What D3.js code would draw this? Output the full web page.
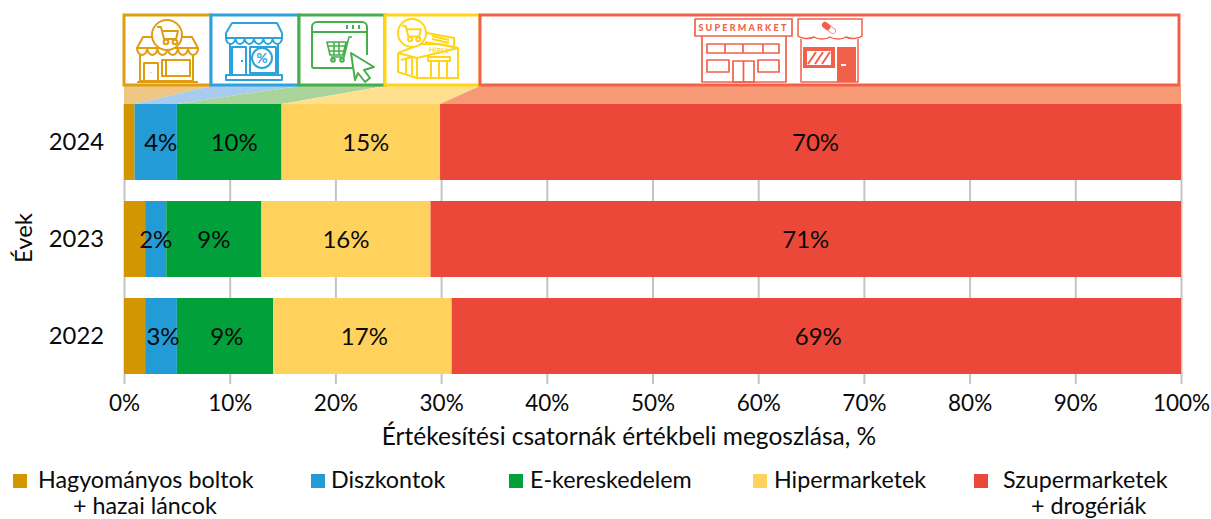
<!DOCTYPE html>
<html><head><meta charset="utf-8">
<script src="https://cdn.jsdelivr.net/npm/d3@7"></script>
<style>html,body{margin:0;padding:0;background:#fff}svg{display:block}text{font-family:"Lato","Noto Sans",sans-serif;fill:#0a0a0a}</style>
</head><body><svg id="c" width="1211" height="519"></svg>
<script>
const years=["2024","2023","2022"];
const channels=["Hagyományos boltok","Diszkontok","E-kereskedelem","Hipermarketek","Szupermarketek"];
const traditional=[1,2,2];
const discount=[4,2,3];
const ecommerce=[9.9,9,9.1];
const hyper=[15,16,16.9];
const superm=[70.1,71,69];
const colors=["#D19600","#239BD6","#02A03A","#FFD25E","#EC4839"];
const lightColors=["#EFC785","#A8CBEE","#A9D49A","#FFE08F","#F69A76"];
const boxColors=["#E09D12","#2CA3DC","#46AE4B","#FFD516","#F2604A"];
const tickValues=d3.range(0,101,10);
const xTitle="Értékesítési csatornák értékbeli megoszlása, %";
const yTitle="Évek";
const boxEdges=[124,211,299,385,480,1179];
const labelShift=[5,0,2];

const svg=d3.select("#c");
const x=d3.scaleLinear().domain([0,100]).range([124,1181]);
const y=d3.scaleBand().domain(years).range([104,374]).paddingInner(0.2165).paddingOuter(0);
const series=[traditional,discount,ecommerce,hyper,superm];
const rows=years.map((yr,i)=>{let c=0;return series.map((s,k)=>{const r={yr,i,k,v:s[i],x0:c,x1:c+s[i]};c+=s[i];return r;});});

// grid + ticks
const ax=d3.axisBottom(x).tickValues(tickValues).tickSize(280).tickFormat(d=>d+"%");
const gx=svg.append("g").attr("transform","translate(0,104)").call(ax);
gx.select(".domain").remove();
gx.selectAll("line").attr("stroke","#C4C4C4").attr("stroke-width",2);
gx.selectAll("text").attr("y",307).attr("dy",0).attr("font-size",22.5).style("fill","#0a0a0a");

// bars
svg.append("g").selectAll("g").data(rows).join("g").selectAll("rect").data(d=>d).join("rect")
 .attr("x",d=>x(d.x0)).attr("width",d=>x(d.x1)-x(d.x0))
 .attr("y",d=>y(d.yr)).attr("height",y.bandwidth()).attr("fill",d=>colors[d.k]);
// labels
svg.append("g").selectAll("g").data(rows).join("g").selectAll("text").data(d=>d.filter(e=>e.k>0)).join("text")
 .attr("x",d=>x((d.x0+d.x1)/2)+labelShift[d.i]).attr("y",d=>y(d.yr)+y.bandwidth()/2+9)
 .attr("text-anchor","middle").attr("font-size",24).text(d=>Math.round(d.v)+"%");

// year labels
svg.append("g").selectAll("text").data(years).join("text")
 .attr("x",104).attr("y",d=>y(d)+y.bandwidth()/2+8).attr("text-anchor","end").attr("font-size",23.8).text(d=>d);
svg.append("text").attr("transform","translate(32,238) rotate(-90)").attr("text-anchor","middle").attr("font-size",23.8).text(yTitle);
svg.append("text").attr("x",629).attr("y",445).attr("text-anchor","middle").attr("font-size",24.5).text(xTitle);

// connector trapezoids
svg.append("g").selectAll("polygon").data(rows[0]).join("polygon")
 .attr("fill",d=>lightColors[d.k])
 .attr("points",d=>{
   const a=d.k==0?124:boxEdges[d.k], b=d.k==4?1181:boxEdges[d.k+1];
   return [[a,86],[b,86],[x(d.x1),y("2024")],[x(d.x0),y("2024")]].map(p=>p.join(",")).join(" ");
 });
// boxes
svg.append("g").selectAll("rect").data(boxColors).join("rect")
 .attr("x",(d,i)=>boxEdges[i]).attr("y",15)
 .attr("width",(d,i)=>boxEdges[i+1]-boxEdges[i]).attr("height",70)
 .attr("fill","#fff").attr("stroke",d=>d).attr("stroke-width",3);

// icons (drawn in each icon's own coordinates)
function icon(tx,ty,col,sw,paths){
  const g=svg.append("g").attr("transform",`translate(${tx},${ty})`).attr("fill","none").attr("stroke",col).attr("stroke-width",sw).attr("stroke-linejoin","round");
  paths.forEach(p=>g.append("path").attr("d",p));
  return g;
}
const scallops=(x0,n,w,yy,r)=>{let s=`M${x0} ${yy}`;for(let i=0;i<n;i++)s+=`a${w/2} ${r} 0 0 0 ${w} 0`;return s;};
function cart(g,cx,cy,s){
  g.append("path").attr("d",`M${cx-10*s} ${cy-7*s}h${4*s}l${3*s} ${12*s}h${13*s}M${cx-5*s} ${cy-3*s}h${16*s}l${-2*s} ${8*s}`);
  g.append("circle").attr("cx",cx-1*s).attr("cy",cy+8*s).attr("r",2.3*s);
  g.append("circle").attr("cx",cx+8*s).attr("cy",cy+8*s).attr("r",2.3*s);
}
// traditional
let g=icon(124,15,boxColors[0],2,[
 "M28 22H19L13 33H74L68 22H58",scallops(13,6,10.2,33,7),
 "M16 40V66H69V40","M13 67H74","M20 66V48H34V66","M38 45H66V61H38Z","M42 45V61","M27 57V57.5"
]);
g.append("circle").attr("cx",43).attr("cy",20).attr("r",15).attr("fill","#fff");cart(g,43,19,1);
// discount
g=icon(211,15,boxColors[1],2,[
 "M21 8H66L71 18V23H15V18Z",scallops(15,6,9.33,23,6),
 "M19 29V60H67V29","M15 60H71V65H15Z","M21 60V32H35V60","M39 32H65V58H39Z","M30 46H32"
]);
g.append("circle").attr("cx",51).attr("cy",43).attr("r",10);
g.append("text").attr("x",51).attr("y",48).attr("text-anchor","middle").attr("font-size",13.5).attr("font-weight",700).style("fill",boxColors[1]).attr("stroke","none").text("%");
// ecommerce
g=icon(298,15,boxColors[2],2,[
 "M14 12a5 5 0 0 1 5-5H64a5 5 0 0 1 5 5V40M14 12V51a2 2 0 0 0 2 2H56","M14 17H69","M49 10V14M55 10V14M61 10V14",
 "M53 38L76 52 66 55 72 63 67 67 60 58 57 65Z"
]);
g.append("path").attr("stroke-width",1.6).attr("d","M29 27H48L45 40H32ZM30 31H47M31 36H46M36 27V40M41 27V40M54 22H51L46 42H33");
g.append("circle").attr("cx",35).attr("cy",45).attr("r",1.8);g.append("circle").attr("cx",44).attr("cy",45).attr("r",1.8);
// hyper
g=icon(385,15,boxColors[3],2,[
 "M13 38V57L32 63H73V33L55 29H36L13 38","M32 43V63","M13 38L32 43L73 33","M16 45L27 42V60M21 44V58",
 "M43 42H65V46H43ZM46 46V63M62 46V63M54 46V63","M42 18L69 23V32L40 27","M47 21L64 25M47 24L64 28"
]);
g.append("circle").attr("cx",27).attr("cy",18).attr("r",14).attr("fill","#fff");cart(g,26,17,.9);
g.append("text").attr("x",54).attr("y",38).attr("text-anchor","middle").attr("font-size",7).attr("font-weight",700).attr("transform","rotate(5 54 36)").style("fill",boxColors[3]).attr("stroke","none").text("HIPER");
// supermarket
g=icon(695,19,boxColors[4],1.7,[
 "M0 0H97V17H0Z","M7 17V63H91V17","M12 25H84V34H12ZM30 25V34M48 25V34M68 25V34",
 "M12 41H34V53H12ZM63 41H84V53H63Z","M38 42H59V63H38ZM48.5 42V63"
]);
g.append("text").attr("x",48.5).attr("y",12).attr("text-anchor","middle").attr("font-size",9).attr("font-weight",900).attr("letter-spacing",2.2).style("fill",boxColors[4]).attr("stroke","none").text("SUPERMARKET");
// drugstore
g=icon(798,19,boxColors[4],1.5,[
 "M0 0H64V17a10 5 0 0 1-16 1a10 5 0 0 1-16 0a10 5 0 0 1-16 0a10 5 0 0 1-16-1Z","M3 20V63H60V20"
]);
g.append("path").attr("fill",boxColors[4]).attr("stroke","none").attr("fill-rule","evenodd").attr("d","M5 28H37V49H5ZM9 32V46H33V32Z");
g.append("path").attr("stroke-width",2).attr("d","M10 45L18 33M17 45L25 33M24 45L32 33");
g.append("rect").attr("x",39).attr("y",28).attr("width",19).attr("height",35).attr("fill",boxColors[4]).attr("stroke","none");
g.append("rect").attr("x",43).attr("y",45).attr("width",5).attr("height",2).attr("fill","#fff").attr("stroke","none");
g.append("path").attr("stroke-width",6).attr("stroke-linecap","round").attr("stroke","#F58A75").attr("d","M27 6L35 12");
g.append("path").attr("stroke-width",4.5).attr("stroke","#fff").attr("stroke-linecap","round").attr("d","M31 9L35 12");
g.append("path").attr("stroke-width",6).attr("stroke-linecap","round").attr("d","M27 6L29.5 8");

// legend
const legend=[
 {sx:13,tx:38,l2:"+ hazai láncok",l2x:73},
 {sx:311,tx:331},
 {sx:509,tx:530},
 {sx:753,tx:774},
 {sx:974,tx:1003,l2:"+ drogériák",l2x:1031}
];
const lg=svg.append("g").selectAll("g").data(legend).join("g");
lg.append("rect").attr("x",d=>d.sx).attr("y",474).attr("width",14).attr("height",14).attr("fill",(d,i)=>colors[i]);
lg.append("text").attr("x",d=>d.tx).attr("y",488).attr("font-size",23.3).text((d,i)=>channels[i]);
lg.filter(d=>d.l2).append("text").attr("x",d=>d.l2x).attr("y",514).attr("font-size",23.3).text(d=>d.l2);
</script></body></html>
